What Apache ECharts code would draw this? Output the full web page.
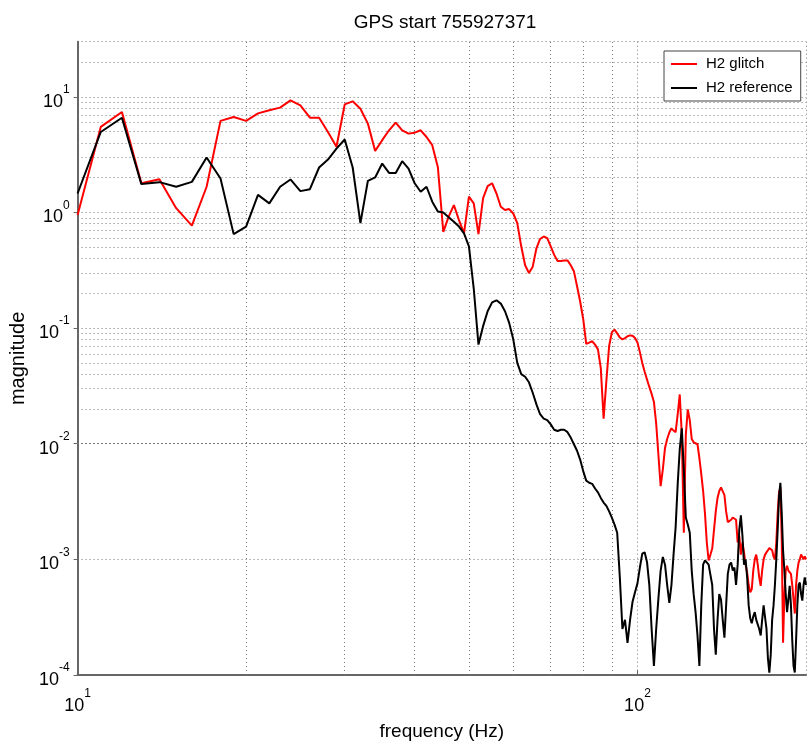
<!DOCTYPE html>
<html><head><meta charset="utf-8">
<script src="https://cdn.jsdelivr.net/npm/echarts@6/dist/echarts.min.js"></script>
<style>html,body{margin:0;padding:0;background:#fff}#c{width:807px;height:746px}</style>
</head><body><div id="c"></div>
<script>
const freq = [10,11,12,13,14,15,16,17,18,19,
20,21,22,23,24,25,26,27,28,29,
30,31,32,33,34,35,36,37,38,39,
40,41,42,43,44,45,46,47,48,49,
50,51,52,53,54,55,56,57,58,59,
60,61,62,63,64,65,66,67,68,69,
70,71,72,73,74,75,76,77,78,79,
80,81,82,83,84,85,86,87,88,89,
90,91,92,93,94,95,96,97,98,99,
100,101,102,103,104,105,106,107,108,109,
110,111,112,113,114,115,116,117,118,119,
120,121,122,123,124,125,126,127,128,129,
130,131,132,133,134,135,136,137,138,139,
140,141,142,143,144,145,146,147,148,149,
150,151,152,153,154,155,156,157,158,159,
160,161,162,163,164,165,166,167,168,169,
170,171,172,173,174,175,176,177,178,179,
180,181,182,183,184,185,186,187,188,189,
190,191,192,193,194,195,196,197,198,199,
200];

const glitch = [0.95,5.5,7.4,1.79,1.94,1.09,0.77,1.67,6.2,6.7,
6.2,7.2,7.65,8.07,9.33,8.45,6.6,6.6,4.97,3.7,
8.6,9.15,7.9,5.87,3.41,4.22,5.14,5.99,5.14,4.81,
4.9,5.14,4.5,3.82,2.48,0.68,0.92,1.16,0.86,0.66,
1.37,1.2,0.65,1.33,1.69,1.79,1.46,1.12,1.05,1.07,
0.98,0.81,0.51,0.35,0.30,0.34,0.49,0.59,0.62,0.60,
0.51,0.43,0.38,0.38,0.385,0.385,0.35,0.31,0.23,0.17,
0.12,0.073,0.075,0.077,0.072,0.0655,0.045,0.0165,0.035,0.07,
0.092,0.097,0.09,0.083,0.080,0.082,0.085,0.0865,0.086,0.082,
0.075,0.062,0.05,0.042,0.036,0.031,0.027,0.023,0.015,0.008,
0.0043,0.006,0.0092,0.011,0.0125,0.0136,0.013,0.0126,0.018,0.0267,
0.012,0.0017,0.012,0.0198,0.016,0.011,0.0103,0.0099,0.0099,0.0075,
0.0055,0.0039,0.0025,0.0014,0.00098,0.0011,0.00124,0.0018,0.0026,0.0034,
0.0039,0.0042,0.0042,0.0036,0.0026,0.0021,0.0021,0.0022,0.0023,0.00233,
0.0022,0.0014,0.0016,0.0011,0.0014,0.00115,0.0009,0.00077,0.0006,0.00052,
0.00055,0.0008,0.001,0.0011,0.0009,0.0007,0.00059,0.0008,0.001,0.0011,
0.00115,0.0012,0.00125,0.00127,0.0012,0.00106,0.001,0.0014,0.0025,0.0038,
0.0042,0.0015,0.00019,0.0005,0.0008,0.00088,0.0008,0.00078,0.00075,0.0006,
0.00045,0.00034,0.0006,0.0008,0.00094,0.001,0.0011,0.00105,0.001,0.00106,
0.001];

const reference = [1.46,4.97,6.6,1.76,1.83,1.67,1.84,2.99,1.97,0.65,
0.755,1.42,1.2,1.67,1.93,1.53,1.59,2.45,2.87,3.57,
4.28,2.45,0.81,1.88,2.01,2.65,2.2,2.2,2.78,2.4,
1.79,1.51,1.67,1.24,1.02,1.0,0.91,0.83,0.755,0.66,
0.51,0.22,0.072,0.104,0.14,0.167,0.174,0.163,0.14,0.111,
0.080,0.050,0.040,0.038,0.034,0.0276,0.0219,0.018,0.0165,0.016,
0.0147,0.0132,0.0129,0.0132,0.0132,0.0126,0.0113,0.0099,0.0087,0.0073,
0.0058,0.0048,0.0046,0.0045,0.0041,0.0038,0.0034,0.0031,0.0029,0.0026,
0.0023,0.0020,0.0017,0.0007,0.00025,0.0003,0.00019,0.0003,0.00043,0.00052,
0.00062,0.00085,0.00112,0.00115,0.00095,0.0006,0.00025,0.00012,0.00025,0.00046,
0.0008,0.00105,0.0009,0.0006,0.00042,0.0006,0.0011,0.0019,0.0045,0.009,
0.0136,0.006,0.0023,0.002,0.0017,0.0008,0.0005,0.00035,0.00022,0.00012,
0.0004,0.0009,0.00098,0.00095,0.0009,0.00091,0.0006,0.00025,0.00015,0.0003,
0.0005,0.00045,0.0003,0.00021,0.0004,0.00075,0.0009,0.00094,0.0008,0.00085,
0.0006,0.0009,0.0018,0.0024,0.0016,0.0009,0.001,0.0007,0.0004,0.00031,
0.00028,0.00032,0.00035,0.0003,0.0003,0.00025,0.00022,0.0003,0.0004,0.0004,
0.00025,0.00014,0.000105,0.00015,0.0003,0.0004,0.0006,0.001,0.0018,0.0035,
0.0046,0.0025,0.0012,0.0008,0.0005,0.00035,0.00045,0.00059,0.0004,0.0002,
0.00012,0.000105,0.0002,0.0004,0.0006,0.00063,0.0005,0.00044,0.0006,0.0007,
0.0006];

const seriesNames = ['H2 glitch', 'H2 reference'];
const titleText = 'GPS start 755927371';
const xName = 'frequency (Hz)';
const yName = 'magnitude';

// minor grid positions (2..9 x 10^k)
const xMinorGrid = [20,30,40,50,60,70,80,90];
const yMinorGrid = [];
[1e-4,1e-3,1e-2,1e-1,1].forEach(d => { for (let k = 2; k <= 9; k++) yMinorGrid.push(+(k*d).toPrecision(3)); });
yMinorGrid.push(20);

const FONT = "'Liberation Sans', Arial, sans-serif";
const gridLine = {type: [1, 3], color: '#777', width: 1};

function powLabel(v) {
  const e = Math.round(Math.log10(v));
  return '{b|10}{s|' + e + '}';
}
const richLab = {
  b: {fontFamily: FONT, fontSize: 18, color: '#000', padding: [10, 0, 0, 0]},
  s: {fontFamily: FONT, fontSize: 12, color: '#000', padding: [0, 0, 14, 0]}
};

const chart = echarts.init(document.getElementById('c'), null, {renderer: 'canvas'});
chart.setOption({
  animation: false,
  backgroundColor: '#fff',
  title: {text: titleText, left: 440, top: 8, textAlign: 'center',
    textStyle: {fontFamily: FONT, fontSize: 19, fontWeight: 'normal', color: '#000'}},
  legend: {orient: 'vertical', left: 664, top: 51, padding: [4, 8, 4, 7], itemGap: 6,
    itemWidth: 26, itemHeight: 2, icon: 'rect', backgroundColor: '#fff',
    borderColor: '#444', borderWidth: 1, selectedMode: false,
    textStyle: {fontFamily: FONT, fontSize: 15, color: '#000', lineHeight: 18, padding: [0, 0, 0, 4]},
    data: seriesNames},
  grid: {left: 76, right: 1, top: 41.7, bottom: 69.5, containLabel: false},
  xAxis: {type: 'log', logBase: 10, min: 10, max: 200, interval: 1,
    name: xName, nameLocation: 'middle', nameGap: 47,
    nameTextStyle: {fontFamily: FONT, fontSize: 19, color: '#000'},
    axisLine: {show: true, onZero: false, lineStyle: {color: '#666', width: 2}},
    axisTick: {show: true, inside: true, length: 5, lineStyle: {color: '#666'}},
    axisLabel: {margin: 12, showMaxLabel: false, formatter: powLabel, rich: richLab},
    splitLine: {show: true, lineStyle: gridLine}},
  yAxis: {type: 'log', logBase: 10, min: 1e-4, max: 30, interval: 1,
    name: yName, nameLocation: 'middle', nameGap: 26, nameRotate: 90,
    nameTextStyle: {fontFamily: FONT, fontSize: 20, color: '#000'},
    axisLine: {show: true, onZero: false, lineStyle: {color: '#666', width: 2}},
    axisTick: {show: true, inside: false, length: 4, lineStyle: {color: '#666'}},
    axisLabel: {margin: 8, showMaxLabel: false, formatter: powLabel, rich: richLab},
    splitLine: {show: true, lineStyle: gridLine}},
  series: [
    {name: seriesNames[0], type: 'line', data: freq.map((f, i) => [f, glitch[i]]),
      symbol: 'none', showSymbol: false, z: 3,
      lineStyle: {color: '#ff0000', width: 2}, itemStyle: {color: '#ff0000'},
      markLine: {z: 1, silent: true, symbol: ['none', 'none'], animation: false,
        label: {show: false}, lineStyle: gridLine, emphasis: {disabled: true},
        data: xMinorGrid.map(v => ({xAxis: v})).concat(yMinorGrid.map(v => ({yAxis: v})))}},
    {name: seriesNames[1], type: 'line', data: freq.map((f, i) => [f, reference[i]]),
      symbol: 'none', showSymbol: false, z: 4,
      lineStyle: {color: '#000000', width: 2}, itemStyle: {color: '#000000'}}
  ]
});
</script></body></html>
